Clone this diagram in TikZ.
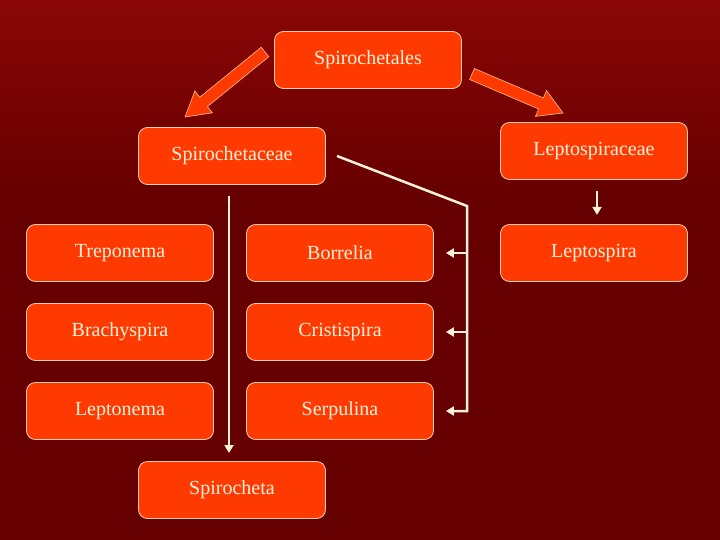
\documentclass[tikz,border=0pt]{standalone}
\usepackage{fontspec}
\setmainfont{Liberation Serif}
\usetikzlibrary{arrows.meta}
\definecolor{bgdark}{HTML}{660000}
\definecolor{bglight}{HTML}{8A0606}
\definecolor{boxfill}{HTML}{FF3A00}
\definecolor{cream}{HTML}{FFF2DC}
\tikzset{
  box/.style={draw=cream!80!boxfill, line width=0.8pt, fill=boxfill, rounded corners=9pt,
    minimum width=187pt, minimum height=57pt, text=cream, font=\fontsize{20}{24}\selectfont},
  fat/.style={draw=cream!70!boxfill, line width=0.6pt, fill=boxfill, line join=miter},
  wline/.style={draw=cream, line width=2.5pt},
  warrow/.style={wline, -{Triangle[width=9pt,length=8pt]}}
}
\begin{document}
\begin{tikzpicture}[x=1pt,y=-1pt]
\useasboundingbox (0,0) rectangle (720,540);
\fill[bgdark] (0,0) rectangle (720,540);
\shade[top color=bglight, bottom color=bgdark] (0,0) rectangle (720,200);

\node[box] (order) at (368,60) {Spirochetales};
\node[box] (spf) at (232,156) {Spirochetaceae};
\node[box] (lpf) at (594,151) {Leptospiraceae};
\node[box] (trep) at (120,253) {Treponema};
\node[box] (borr) at (340,253) {Borrelia};
\node[box] (lspira) at (594,253) {Leptospira};
\node[box] (brach) at (120,332) {Brachyspira};
\node[box] (crist) at (340,332) {Cristispira};
\node[box] (lnema) at (120,411) {Leptonema};
\node[box] (serp) at (340,411) {Serpulina};
\node[box] (spch) at (232,490) {Spirocheta};

% fat arrows
\filldraw[fat] (261.2,47.3) -- (199.8,97.2) -- (194.8,91.0) -- (185,117) -- (212.4,112.8) -- (207.4,106.6) -- (268.8,56.7) -- cycle;
\filldraw[fat] (474.4,68.5) -- (543.4,98.0) -- (546.5,90.6) -- (563,113) -- (535.5,116.4) -- (538.6,109.0) -- (469.6,79.5) -- cycle;

\draw[warrow] (lpf.south) ++(3,11) coordinate (a1) -- ++(0,24) coordinate (a2);
\coordinate (v1) at (229,196);
\coordinate (v2) at (229,453);
\draw[warrow] (v1) -- (v2);
\coordinate (s1) at (337,156);
\coordinate (k) at (467,206);
\coordinate (kb) at (467,411);
\draw[wline, line join=miter] (s1) -- (k) -- (kb) -- (450,411);
\draw[warrow] (468,253) -- ([xshift=12pt]borr.east);
\draw[warrow] (468,332) -- ([xshift=12pt]crist.east);
\draw[warrow] (468,411) -- ([xshift=12pt]serp.east);
\end{tikzpicture}
\end{document}
